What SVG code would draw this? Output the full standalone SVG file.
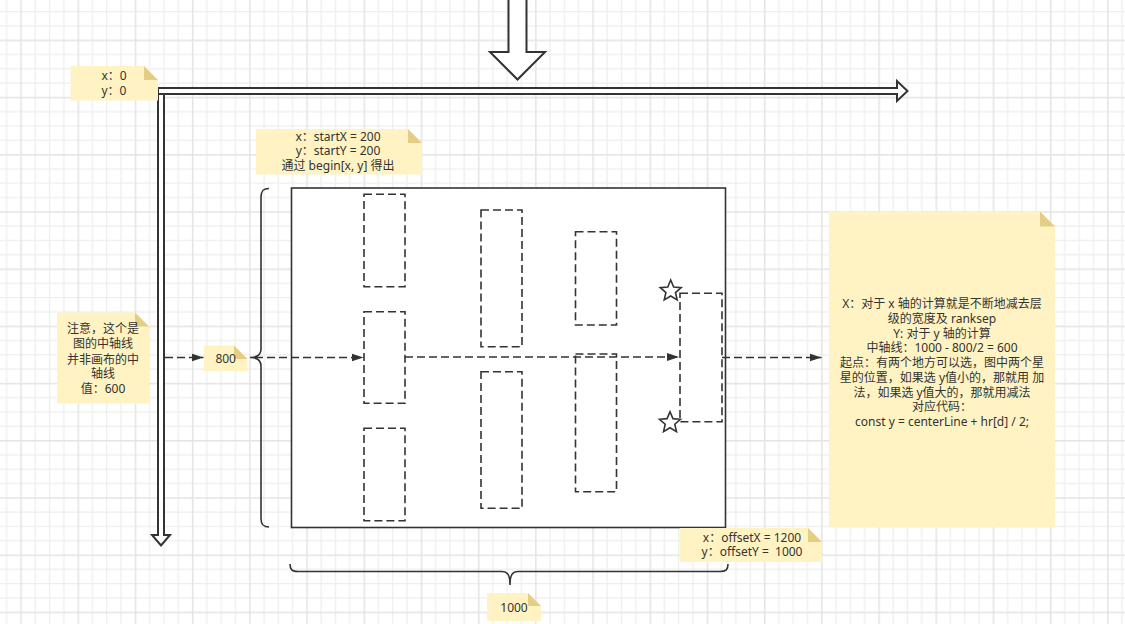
<svg xmlns="http://www.w3.org/2000/svg" width="1125" height="624" viewBox="0 0 1125 624" xml:space="preserve">
<defs>
<pattern id="grid" patternUnits="userSpaceOnUse" x="20.3" y="39.6" width="57.2" height="57.2">
<rect width="57.2" height="57.2" fill="#fff"/>
<g fill="#eeeeee">
<rect x="14.3" y="0" width="1.2" height="57.2"/>
<rect x="28.6" y="0" width="1.2" height="57.2"/>
<rect x="42.9" y="0" width="1.2" height="57.2"/>
<rect x="0" y="14.3" width="57.2" height="1.2"/>
<rect x="0" y="28.6" width="57.2" height="1.2"/>
<rect x="0" y="42.9" width="57.2" height="1.2"/>
</g>
<g fill="#e4e4e4">
<rect x="0" y="0" width="1.5" height="57.2"/>
<rect x="0" y="0" width="57.2" height="1.5"/>
</g>
</pattern>
<marker id="arr" markerUnits="userSpaceOnUse" markerWidth="12" markerHeight="9" refX="12" refY="4.5" orient="auto" viewBox="0 0 12 9">
<path d="M0,0.5 L12,4.5 L0,8.5 Z" fill="#333"/>
</marker>
</defs>
<style>
.note{fill:#fff3c3}
.fold{fill:#e4cd85}
.t{font-family:"Noto Sans","Noto Sans CJK SC",sans-serif;font-size:12px;fill:#333;text-anchor:middle;white-space:pre}
.dash{fill:#fff;stroke:#333;stroke-width:1.6;stroke-dasharray:8 4}
.conn{fill:none;stroke:#333;stroke-width:1.6;stroke-dasharray:8 4;marker-end:url(#arr)}
.ax{fill:#fff;stroke:#333;stroke-width:2;stroke-linejoin:miter}
.brace{fill:none;stroke:#333;stroke-width:1.6}
.star{fill:#fff;stroke:#333;stroke-width:1.6;stroke-linejoin:miter}
</style>
<rect width="1125" height="624" fill="url(#grid)"/>

<g id="axes">
<path id="axis-y" class="ax" d="M158,88 V535 H152 L161,545.5 L170,535 H164 V88 Z"/>
<path id="axis-x" class="ax" d="M158,88 H897 V81 L907.5,91 L897,101 V94 H158 Z"/>
<path id="arrow-down" class="ax" d="M508.5,-3 V52 H490 L517.5,79.5 L545,52 H526.5 V-3 Z"/>
</g>

<g id="canvas">
<rect x="291.5" y="188" width="434" height="339.5" fill="#fff" stroke="#333" stroke-width="1.6"/>
</g>

<g id="braces">
<path id="brace-left" class="brace" d="M269,188.5 C263,188.5 261,191 261,197 L261,349 C261,355 257,357.5 250,357.5 C257,357.5 261,360 261,366 L261,518.5 C261,524.5 263,527 269,527"/>
<path id="brace-bottom" class="brace" d="M290,564 C290,569.5 292,571.5 298,571.5 L502,571.5 C507,571.5 510,574 510,585 C510,574 513,571.5 518,571.5 L720,571.5 C726,571.5 728,569.5 728,564"/>
</g>

<g id="nodes">
<rect id="n-c1a" class="dash" x="364" y="194.3" width="41" height="92.4"/>
<rect id="n-c1b" class="dash" x="364" y="311.7" width="41" height="91.6"/>
<rect id="n-c1c" class="dash" x="364" y="428.3" width="41" height="92.4"/>
<rect id="n-c2a" class="dash" x="481" y="210" width="41" height="136.7"/>
<rect id="n-c2b" class="dash" x="481" y="371.7" width="41" height="136.6"/>
<rect id="n-c3a" class="dash" x="575.5" y="231.7" width="41" height="93.3"/>
<rect id="n-c3b" class="dash" x="575.5" y="354" width="41" height="137.7"/>
<rect id="n-c4" class="dash" x="680" y="293.3" width="42" height="128.4"/>
</g>

<g id="connectors">
<line class="conn" x1="165" y1="357.5" x2="203.5" y2="357.5"/>
<line class="conn" x1="255" y1="357.5" x2="363.5" y2="357.5"/>
<line class="conn" x1="405" y1="357" x2="679" y2="357"/>
<line class="conn" x1="722" y1="357.5" x2="821.5" y2="357.5"/>
</g>

<g id="star-top" transform="translate(670.7,291)">
<polygon class="star" points="0,-11 2.94,-4.05 10.46,-3.4 4.76,1.55 6.47,8.9 0,5 -6.47,8.9 -4.76,1.55 -10.46,-3.4 -2.94,-4.05"/>
</g>
<g id="star-bottom" transform="translate(670,422.7)">
<polygon class="star" points="0,-11 2.94,-4.05 10.46,-3.4 4.76,1.55 6.47,8.9 0,5 -6.47,8.9 -4.76,1.55 -10.46,-3.4 -2.94,-4.05"/>
</g>

<g id="note-origin">
<path class="note" d="M70.5,66 H144 L158,80 V100.5 H70.5 Z"/>
<path class="fold" d="M144,66 V80 H158 Z"/>
<text class="t" x="114" y="80.3">x：0</text>
<text class="t" x="114" y="95">y：0</text>
</g>

<g id="note-start">
<path class="note" d="M256,129 H408 L422,143 V174.5 H256 Z"/>
<path class="fold" d="M408,129 V143 H422 Z"/>
<text class="t" x="338" y="140.6">x：startX = 200</text>
<text class="t" x="338" y="155.4">y：startY = 200</text>
<text class="t" x="338" y="169.6">通过 begin[x, y] 得出</text>
</g>

<g id="note-center">
<path class="note" d="M57,312.5 H135 L149,326.5 V403.5 H57 Z"/>
<path class="fold" d="M135,312.5 V326.5 H149 Z"/>
<text class="t" x="103" y="332.6">注意，这个是</text>
<text class="t" x="103" y="348.1">图的中轴线</text>
<text class="t" x="103" y="363.8">并非画布的中</text>
<text class="t" x="103" y="378.2">轴线</text>
<text class="t" x="103" y="392.6">值：600</text>
</g>

<g id="note-800">
<path class="note" d="M204,345.5 H234 L247.5,359 V371 H204 Z"/>
<path class="fold" d="M234,345.5 V359 H247.5 Z"/>
<text class="t" x="225.7" y="363.3">800</text>
</g>

<g id="note-explain">
<path class="note" d="M829,211.5 H1040 L1055,226.5 V527.5 H829 Z"/>
<path class="fold" d="M1040,211.5 V226.5 H1055 Z"/>
<text class="t" x="942" y="308.3">X：对于 x 轴的计算就是不断地减去层</text>
<text class="t" x="942" y="323">级的宽度及 ranksep</text>
<text class="t" x="942" y="337.7">Y: 对于 y 轴的计算</text>
<text class="t" x="942" y="352.4">中轴线：1000 - 800/2 = 600</text>
<text class="t" x="942" y="367.1">起点：有两个地方可以选，图中两个星</text>
<text class="t" x="942" y="381.8">星的位置，如果选 y值小的，那就用 加</text>
<text class="t" x="942" y="396.5">法，如果选 y值大的，那就用减法</text>
<text class="t" x="942" y="411.2">对应代码：</text>
<text class="t" x="942" y="425.9">const y = centerLine + hr[d] / 2;</text>
</g>

<g id="note-offset">
<path class="note" d="M679.5,528 H808 L822,542 V562 H679.5 Z"/>
<path class="fold" d="M808,528 V542 H822 Z"/>
<text class="t" x="752" y="541.6">x：offsetX = 1200</text>
<text class="t" x="752" y="556">y：offsetY =  1000</text>
</g>

<g id="note-1000">
<path class="note" d="M487,593 H528 L541,606 V621 H487 Z"/>
<path class="fold" d="M528,593 V606 H541 Z"/>
<text class="t" x="514" y="612">1000</text>
</g>
</svg>
